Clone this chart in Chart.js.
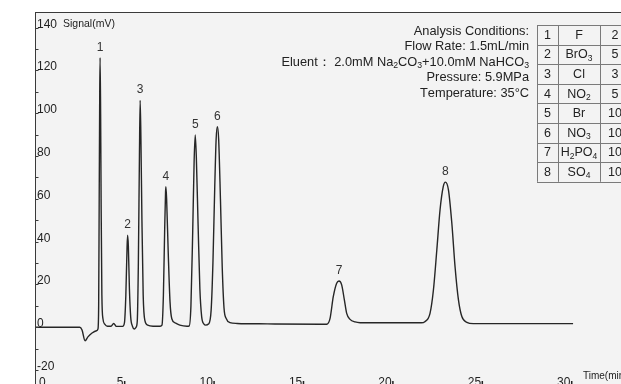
<!DOCTYPE html>
<html>
<head>
<meta charset="utf-8">
<script src="https://cdn.jsdelivr.net/npm/chart.js@4.4.1/dist/chart.umd.min.js"></script>
<style>
  html, body { margin: 0; padding: 0; background: #fff; }
</style>
</head>
<body>
<canvas id="chrom" width="621" height="384"></canvas>
<script>
// retention time (min) and detector signal (mV)
const times = [
  0, 2.5, 2.63, 2.80, 2.96, 3.19, 3.44, 3.52,
  3.56, 3.59, 3.62, 3.64, 3.67, 3.70, 3.74, 3.80, 3.90, 4.05,
  4.25, 4.40, 4.55,
  4.90, 5.00, 5.08, 5.15, 5.18, 5.22, 5.28, 5.35, 5.45, 5.55, 5.65,
  5.72, 5.78, 5.84, 5.88, 5.92, 5.98, 6.05, 6.15, 6.30, 6.60, 7.00,
  7.10, 7.18, 7.25, 7.30, 7.32, 7.36, 7.45, 7.55, 7.65, 7.85, 8.10, 8.50,
  8.62, 8.72, 8.82, 8.90, 8.96, 9.02, 9.12, 9.22, 9.32, 9.45, 9.55,
  9.70, 9.85, 9.95, 10.05, 10.13, 10.20, 10.27, 10.37, 10.47, 10.57, 10.70, 10.90, 11.30,
  13.0, 16.0,
  16.31, 16.50, 16.68, 16.87, 17.00, 17.15, 17.30, 17.43, 17.62, 17.90, 18.18,
  20.0, 21.6,
  21.80, 22.09, 22.28, 22.47, 22.65, 22.83, 22.95, 23.12, 23.31, 23.49, 23.68, 23.87, 24.15, 24.51,
  30.09
];
const signal = [
  0, 0, -1.3, -6.3, -4.5, -2.7, -1.6, -0.8,
  10, 60, 110, 126, 100, 55, 15, 4, 1.5, 0.5,
  0.5, 1.8, 0.4,
  0.4, 2, 15, 38, 43, 38, 18, 5, 0.5, -0.8, 0,
  3, 30, 80, 106, 90, 50, 15, 3, 1, 0.5, 0.5,
  1, 15, 45, 63, 65.7, 60, 35, 12, 4, 2, 1, 0.5,
  0.6, 10, 45, 78, 89.9, 80, 48, 18, 5, 1.5, 1,
  1.5, 8, 30, 65, 88, 93.7, 88, 60, 28, 9, 4, 2.2, 1.8,
  1.6, 1.4,
  1.4, 4.2, 14.3, 20.6, 21.6, 19.8, 12.8, 6.5, 3.7, 2.5, 2.15,
  2.1, 2.1,
  2.6, 6.5, 17.4, 36.1, 54.8, 65.7, 67.8, 64.2, 48.6, 28.3, 12.8, 5.0, 2.3, 1.7,
  1.7
];

const peakNames = ['1', '2', '3', '4', '5', '6', '7', '8'];
const peakTimes = [3.64, 5.18, 5.88, 7.32, 8.96, 10.20, 17.00, 22.95];

const yTicks = [-20, -10, 0, 10, 20, 30, 40, 50, 60, 70, 80, 90, 100, 110, 120, 130, 140];
const xTicks = [0, 5, 10, 15, 20, 25, 30];

const conditions = [
  'Analysis Conditions:',
  'Flow Rate: 1.5mL/min',
  'Eluent\uFF1A 2.0mM Na_2CO_3+10.0mM NaHCO_3',
  'Pressure: 5.9MPa',
  'Temperature: 35\u00B0C'
];

const ionNums = ['1', '2', '3', '4', '5', '6', '7', '8'];
const ionNames = ['F', 'BrO_3', 'Cl', 'NO_2', 'Br', 'NO_3', 'H_2PO_4', 'SO_4'];
const ionConc = ['2', '5', '3', '5', '10', '10', '10', '10'];

const FONT = '"Liberation Sans", Arial, Helvetica, sans-serif';

// text with "_d" meaning subscript digit
function richParts(str) {
  let parts = [];
  for (let i = 0; i < str.length; i++) {
    if (str[i] === '_' && i + 1 < str.length) {
      parts.push({ t: str[i + 1], sub: true });
      i++;
    } else {
      parts.push({ t: str[i], sub: false });
    }
  }
  return parts;
}

function drawRich(ctx, str, x, y, size, align) {
  let parts = richParts(str);
  let w = 0;
  parts.forEach(p => {
    ctx.font = (p.sub ? size * 0.68 : size) + 'px ' + FONT;
    p.w = ctx.measureText(p.t).width;
    w += p.w;
  });
  let cx = align === 'right' ? x - w : (align === 'center' ? x - w / 2 : x);
  ctx.textAlign = 'left';
  ctx.textBaseline = 'middle';
  parts.forEach(p => {
    ctx.font = (p.sub ? size * 0.68 : size) + 'px ' + FONT;
    ctx.fillText(p.t, cx, p.sub ? y + size * 0.28 : y);
    cx += p.w;
  });
}

const decor = {
  id: 'decor',
  beforeDraw(chart) {
    const ctx = chart.ctx;
    const a = chart.chartArea;
    ctx.save();
    ctx.fillStyle = '#ffffff';
    ctx.fillRect(0, 0, chart.width, chart.height);
    ctx.fillStyle = '#f3f3f3';
    ctx.fillRect(a.left, a.top, a.right - a.left, a.bottom - a.top);
    ctx.restore();
  },
  afterDatasetsDraw(chart) {
    const ctx = chart.ctx;
    const a = chart.chartArea;
    const xs = chart.scales.x;
    const ys = chart.scales.y;
    ctx.save();

    // frame: top line and left axis
    ctx.strokeStyle = '#3a3a3a';
    ctx.lineWidth = 1;
    ctx.beginPath();
    ctx.moveTo(a.left, a.top + 0.5);
    ctx.lineTo(a.right, a.top + 0.5);
    ctx.moveTo(a.left + 0.5, a.top);
    ctx.lineTo(a.left + 0.5, a.bottom);
    ctx.stroke();

    // y ticks and labels
    ctx.fillStyle = '#222';
    yTicks.forEach(v => {
      const py = Math.round(ys.getPixelForValue(v)) + 0.5;
      ctx.beginPath();
      ctx.moveTo(a.left, py);
      ctx.lineTo(a.left + 3.5, py);
      ctx.stroke();
      if (v % 20 === 0) {
        ctx.font = '12px ' + FONT;
        ctx.textAlign = 'left';
        ctx.textBaseline = 'alphabetic';
        ctx.fillText(String(v), a.left + 2, py - 1);
      }
    });
    ctx.font = '10.5px ' + FONT;
    ctx.fillText('Signal(mV)', a.left + 28, ys.getPixelForValue(140) - 1);

    // x ticks and labels
    xTicks.forEach(v => {
      const px = xs.getPixelForValue(v);
      ctx.font = '12px ' + FONT;
      ctx.textBaseline = 'alphabetic';
      if (v === 0) {
        ctx.textAlign = 'left';
        ctx.fillText('0', px + 4, 386);
      } else {
        ctx.textAlign = 'right';
        ctx.fillText(String(v), px - 1, 386);
        ctx.fillRect(px - 0.5, 381, 1.5, 3);
      }
    });
    ctx.font = '10px ' + FONT;
    ctx.textAlign = 'left';
    ctx.fillText('Time(min)', 583, 379);

    // peak numbers
    ctx.fillStyle = '#333';
    ctx.font = '12px ' + FONT;
    ctx.textAlign = 'center';
    ctx.textBaseline = 'alphabetic';
    peakTimes.forEach((t, i) => {
      const k = times.indexOf(t);
      const px = xs.getPixelForValue(t);
      const py = ys.getPixelForValue(signal[k]);
      ctx.fillText(peakNames[i], px, py - 7);
    });

    // analysis conditions
    ctx.fillStyle = '#222';
    conditions.forEach((s, i) => {
      drawRich(ctx, s, 529, 31 + i * 15.6, 12.8, 'right');
    });

    // ion table
    const tx = [537, 558, 600, 640];
    const ty0 = 25, rh = 19.6;
    ctx.strokeStyle = '#7a7a7a';
    ctx.lineWidth = 1;
    ctx.beginPath();
    for (let r = 0; r <= ionNums.length; r++) {
      const yy = Math.round(ty0 + r * rh) + 0.5;
      ctx.moveTo(tx[0], yy);
      ctx.lineTo(tx[3], yy);
    }
    for (let c = 0; c < 3; c++) {
      ctx.moveTo(tx[c] + 0.5, ty0);
      ctx.lineTo(tx[c] + 0.5, ty0 + ionNums.length * rh);
    }
    ctx.stroke();
    ctx.fillStyle = '#222';
    ionNums.forEach((n, r) => {
      const cy = ty0 + r * rh + rh / 2 + 0.5;
      drawRich(ctx, n, (tx[0] + tx[1]) / 2, cy, 12.5, 'center');
      drawRich(ctx, ionNames[r], (tx[1] + tx[2]) / 2, cy, 12.5, 'center');
      drawRich(ctx, ionConc[r], 615, cy, 12.5, 'center');
    });

    ctx.restore();
  }
};

const ctx = document.getElementById('chrom').getContext('2d');
new Chart(ctx, {
  type: 'line',
  data: {
    datasets: [{
      data: times.map((t, i) => ({ x: t, y: signal[i] })),
      borderColor: '#262626',
      borderWidth: 1.4,
      pointRadius: 0,
      cubicInterpolationMode: 'monotone',
      fill: false
    }]
  },
  options: {
    responsive: false,
    animation: false,
    devicePixelRatio: 1,
    layout: { padding: { left: 35, top: 12, right: 0, bottom: 0 } },
    plugins: { legend: { display: false }, tooltip: { enabled: false } },
    scales: {
      x: { type: 'linear', min: 0, max: 32.77, display: false },
      y: { min: -26.5, max: 147.3, display: false }
    }
  },
  plugins: [decor]
});
</script>
</body>
</html>
